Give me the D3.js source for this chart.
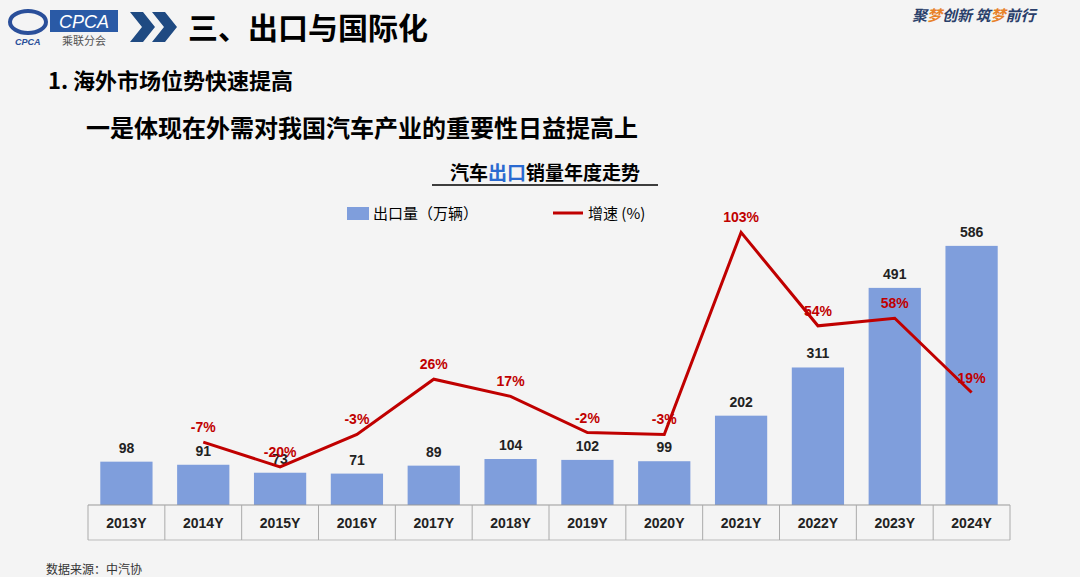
<!DOCTYPE html>
<html><head><meta charset="utf-8">
<script src="https://cdn.jsdelivr.net/npm/d3@7"></script>
<style>body{margin:0;background:#f4f4f4;font-family:"Noto Sans CJK SC","Noto Sans",sans-serif}</style>
</head><body>
<svg id="c" width="1080" height="577"></svg>
<script>
const years = ["2013Y","2014Y","2015Y","2016Y","2017Y","2018Y","2019Y","2020Y","2021Y","2022Y","2023Y","2024Y"];
const exports_ = [98, 91, 73, 71, 89, 104, 102, 99, 202, 311, 491, 586];
const growth = [null, -7, -20, -3, 26, 17, -2, -3, 103, 54, 58, 19];

const svg = d3.select("#c");
const F = "'Noto Sans CJK SC',sans-serif";

// header
svg.append("rect").attr("width",1080).attr("height",577).attr("fill","#f4f4f4");
svg.append("ellipse").attr("cx",28).attr("cy",22).attr("rx",18).attr("ry",11).attr("fill","none").attr("stroke","#2a4f9a").attr("stroke-width",4);
svg.append("rect").attr("x",50).attr("y",10).attr("width",68).attr("height",22).attr("fill","#2a5aa6");
svg.append("text").attr("x",84).attr("y",28).attr("text-anchor","middle").attr("fill","#fff").attr("font-size",18).attr("font-style","italic").attr("font-family","Liberation Sans").text("CPCA");
svg.append("text").attr("x",84).attr("y",45).attr("text-anchor","middle").attr("fill","#555").attr("font-size",11).attr("font-family",F).text("乘联分会");
svg.append("text").attr("x",15).attr("y",45).attr("fill","#2a4f9a").attr("font-size",9).attr("font-style","italic").attr("font-weight","bold").attr("font-family","Liberation Sans").text("CPCA");
svg.append("path").attr("d","M130,12 L143,12 L155,27 L143,42 L130,42 L142,27 Z M152,12 L165,12 L177,27 L165,42 L152,42 L164,27 Z").attr("fill","#1f4a82");
svg.append("text").attr("x",188).attr("y",39).attr("font-size",30).attr("font-weight","bold").attr("font-family",F).attr("fill","#000").text("三、出口与国际化");
const slogan = svg.append("text").attr("x",912).attr("y",21).attr("font-size",15).attr("font-style","italic").attr("font-weight","bold").attr("font-family",F).attr("fill","#2a3f6a");
[["聚","#2a3f6a"],["梦","#e8822a"],["创新 筑","#2a3f6a"],["梦","#e8822a"],["前行","#2a3f6a"]].forEach(([t,c])=>slogan.append("tspan").attr("fill",c).text(t));
svg.append("text").attr("x",48).attr("y",89).attr("font-size",22).attr("font-weight","bold").attr("font-family",F).text("1. 海外市场位势快速提高");
svg.append("text").attr("x",86).attr("y",137).attr("font-size",24).attr("font-weight","bold").attr("font-family",F).text("一是体现在外需对我国汽车产业的重要性日益提高上");
const tt = svg.append("text").attr("x",545).attr("y",180).attr("text-anchor","middle").attr("font-size",19).attr("font-weight","bold").attr("font-family",F);
tt.append("tspan").text("汽车");
tt.append("tspan").attr("fill","#2a6ad0").text("出口");
tt.append("tspan").text("销量年度走势");
svg.append("line").attr("x1",432).attr("x2",658).attr("y1",185).attr("y2",185).attr("stroke","#000").attr("stroke-width",1.5);

const x = d3.scaleBand().domain(years).range([88,1010]).paddingInner(0.32).paddingOuter(0.16);
const y = d3.scaleLinear().domain([0,640]).range([505,222]);
const yg = d3.scaleLinear().domain([-40,120]).range([505,200]);

svg.append("g").selectAll("rect").data(exports_).join("rect")
  .attr("x",(d,i)=>x(years[i])).attr("width",x.bandwidth())
  .attr("y",d=>y(d)).attr("height",d=>505-y(d)).attr("fill","#7f9edc");
svg.append("g").selectAll("text").data(exports_).join("text")
  .attr("x",(d,i)=>x(years[i])+x.bandwidth()/2).attr("y",d=>y(d)-9)
  .attr("text-anchor","middle").attr("font-size",14).attr("font-weight","bold").attr("font-family","Liberation Sans").attr("fill","#222").text(d=>d);

// x axis cells
const step = x.step();
const ax = svg.append("g");
ax.append("line").attr("x1",88).attr("x2",1010).attr("y1",505).attr("y2",505).attr("stroke","#999");
ax.append("line").attr("x1",88).attr("x2",1010).attr("y1",540).attr("y2",540).attr("stroke","#bbb");
years.forEach((yr,i)=>{
  const x0 = 88 + i*step;
  ax.append("line").attr("x1",x0).attr("x2",x0).attr("y1",505).attr("y2",540).attr("stroke","#aaa");
  ax.append("text").attr("x",x(yr)+x.bandwidth()/2).attr("y",528).attr("text-anchor","middle").attr("font-size",14).attr("font-weight","bold").attr("font-family","Liberation Sans").attr("fill","#222").text(yr);
});
ax.append("line").attr("x1",1010).attr("x2",1010).attr("y1",505).attr("y2",540).attr("stroke","#aaa");

const pts = growth.map((g,i)=>[g,years[i]]).filter(d=>d[0]!==null);
svg.append("path").datum(pts).attr("fill","none").attr("stroke","#c00000").attr("stroke-width",3)
  .attr("d",d3.line().x(d=>x(d[1])+x.bandwidth()/2).y(d=>yg(d[0])));
svg.append("g").selectAll("text").data(pts).join("text")
  .attr("x",d=>x(d[1])+x.bandwidth()/2).attr("y",d=>yg(d[0])-10)
  .attr("text-anchor","middle").attr("font-size",14).attr("font-weight","bold").attr("font-family","Liberation Sans").attr("fill","#c00000").text(d=>d[0]+"%");

// legend
svg.append("rect").attr("x",347).attr("y",207).attr("width",22).attr("height",13).attr("fill","#7f9edc");
svg.append("text").attr("x",373).attr("y",219).attr("font-size",15).attr("font-family",F).text("出口量（万辆）");
svg.append("line").attr("x1",553).attr("x2",583).attr("y1",213).attr("y2",213).attr("stroke","#c00000").attr("stroke-width",3);
svg.append("text").attr("x",588).attr("y",219).attr("font-size",15).attr("font-family",F).text("增速 (%)");

svg.append("text").attr("x",46).attr("y",574).attr("font-size",12).attr("font-family",F).attr("fill","#333").text("数据来源：中汽协");
</script>
</body></html>
